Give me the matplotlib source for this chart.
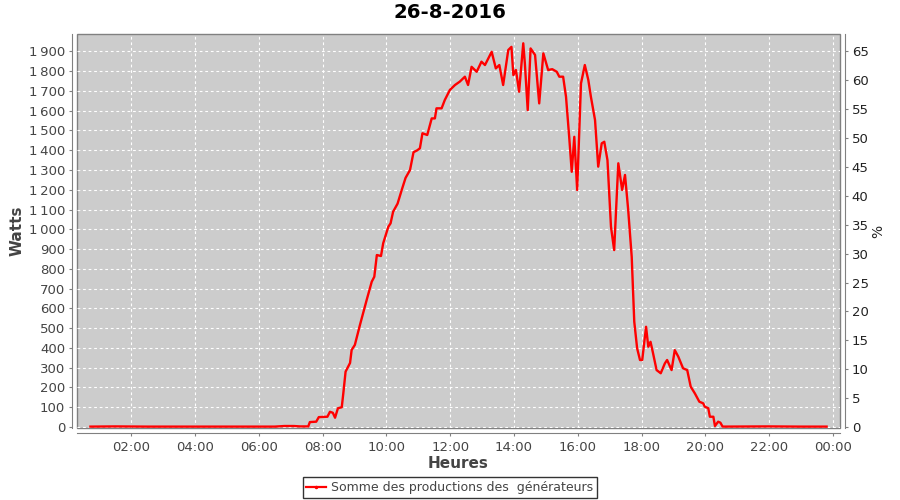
import matplotlib
matplotlib.use("Agg")
import matplotlib.pyplot as plt
from matplotlib.ticker import FixedLocator, FuncFormatter
from matplotlib.lines import Line2D

title = "26-8-2016"
series_name = "Somme des productions des  générateurs"

hours = [0.72, 1.5, 2.5, 4.0, 5.5, 6.5, 6.8, 7.1, 7.3, 7.55,
         7.6, 7.8, 7.88, 8.15, 8.23, 8.32, 8.39, 8.48, 8.6, 8.65,
         8.72, 8.86, 8.91, 9.01, 9.17, 9.38, 9.54, 9.62, 9.7, 9.83,
         9.9, 10.06, 10.13, 10.21, 10.35, 10.48, 10.6, 10.74, 10.85, 10.97,
         11.05, 11.13, 11.28, 11.42, 11.52, 11.57, 11.73, 11.83, 11.99, 12.15,
         12.30, 12.46, 12.56, 12.67, 12.83, 12.98, 13.09, 13.30, 13.43, 13.54,
         13.66, 13.82, 13.92, 13.98, 14.06, 14.16, 14.29, 14.34, 14.43, 14.52,
         14.66, 14.79, 14.92, 15.07, 15.2, 15.34, 15.42, 15.54, 15.63, 15.73,
         15.81, 15.89, 15.98, 16.10, 16.22, 16.33, 16.41, 16.54, 16.64, 16.75,
         16.83, 16.93, 17.04, 17.14, 17.27, 17.39, 17.48, 17.58, 17.69, 17.77,
         17.86, 17.95, 18.02, 18.14, 18.21, 18.28, 18.35, 18.47, 18.60, 18.73,
         18.80, 18.94, 19.04, 19.15, 19.30, 19.43, 19.54, 19.67, 19.81, 19.93,
         19.98, 20.09, 20.14, 20.25, 20.30, 20.40, 20.47, 20.54, 21.5, 22.0,
         23.0, 23.8]
watts = [2, 3, 2, 2, 2, 2, 5, 5, 3, 3,
         25, 27, 50, 52, 77, 72, 47, 95, 100, 172,
         280, 324, 390, 415, 516, 642, 735, 760, 870, 865,
         930, 1013, 1030, 1089, 1130, 1199, 1260, 1300, 1390, 1400,
         1410, 1486, 1477, 1561, 1561, 1612, 1612, 1654, 1705, 1730,
         1747, 1772, 1730, 1822, 1797, 1848, 1831, 1898, 1814, 1831,
         1730, 1907, 1923, 1780, 1806, 1696, 1941, 1840, 1603, 1915,
         1882, 1637, 1890, 1806, 1810, 1797, 1772, 1772, 1671, 1468,
         1291, 1468, 1199, 1738, 1831, 1755, 1671, 1553, 1317, 1435,
         1443, 1350, 1013, 895, 1334, 1199, 1275, 1098, 861, 533,
         398, 339, 339, 507, 406, 431, 380, 288, 272, 322,
         339, 288, 389, 356, 297, 288, 204, 170, 128, 120,
         103, 95, 52, 52, 5, 27, 22, 2, 3, 3,
         2, 2]

watt_ticks = list(range(0, 2000, 100))
pct_ticks = list(range(0, 70, 5))
hour_ticks = list(range(2, 26, 2))
watts_per_pct = 29.23

fig = plt.figure(figsize=(9, 5), dpi=100)
ax = fig.add_axes([77/900, 1-428/500, (840-77)/900, (428-34)/500])
ax.set_facecolor("#cccccc")
ax.patch.set_edgecolor("#808080")
ax.patch.set_linewidth(1.0)

ax.plot(hours, watts, color="#ff0000", lw=1.7, zorder=3)

ylo, yhi = -5, 1988
ax.set_xlim(0.3, 24.22)
ax.set_ylim(ylo, yhi)

ax.xaxis.set_major_locator(FixedLocator(hour_ticks))
ax.xaxis.set_major_formatter(FuncFormatter(lambda v, p: "%02d:00" % (int(round(v)) % 24)))
ax.yaxis.set_major_locator(FixedLocator(watt_ticks))
ax.yaxis.set_major_formatter(FuncFormatter(lambda v, p: "{:,}".format(int(v)).replace(",", "\u2009")))

ax.grid(True, color="white", lw=0.8, ls=(0, (2.5, 2.5)))
ax.set_axisbelow(True)

ax.spines["top"].set_visible(False)
for s in ["left", "bottom", "right"]:
    ax.spines[s].set_position(("outward", 3.5))
    ax.spines[s].set_color("#808080")
ax.spines["right"].set_visible(False)

ax.tick_params(axis="both", colors="#808080", labelcolor="#444444", labelsize=9.5, length=2, width=0.8)
ax.tick_params(axis="y", pad=3)
ax.tick_params(axis="x", pad=4)

ax.set_ylabel("Watts", fontsize=11, fontweight="bold", color="#444444", labelpad=3)
ax.set_xlabel("Heures", fontsize=11, fontweight="bold", color="#444444", labelpad=1)

ax2 = ax.twinx()
ax2.set_ylim(ylo/watts_per_pct, yhi/watts_per_pct)
ax2.yaxis.set_major_locator(FixedLocator(pct_ticks))
ax2.spines["top"].set_visible(False)
ax2.spines["left"].set_visible(False)
ax2.spines["bottom"].set_visible(False)
ax2.spines["right"].set_position(("outward", 3.5))
ax2.spines["right"].set_color("#808080")
ax2.tick_params(axis="y", colors="#808080", labelcolor="#222222", labelsize=9.5, length=2, width=0.8, pad=3)
ax2.set_ylabel("%", fontsize=10, color="#222222", labelpad=2)

fig.text(0.5, 1-13/500, title, ha="center", va="center", fontsize=14.2, fontweight="bold", color="black")

handle = Line2D([], [], color="#ff0000", lw=1.6, marker="o", markersize=1.5)
leg = fig.legend([handle], [series_name], loc="center", bbox_to_anchor=(0.5, 1-487.5/500),
                 frameon=True, fancybox=False, fontsize=9, handlelength=1.6,
                 handletextpad=0.4, borderpad=0.3, borderaxespad=0)
leg.get_frame().set_edgecolor("black")
leg.get_frame().set_linewidth(1.0)
for t in leg.get_texts():
    t.set_color("#444444")

fig.savefig("out.png", dpi=100)
